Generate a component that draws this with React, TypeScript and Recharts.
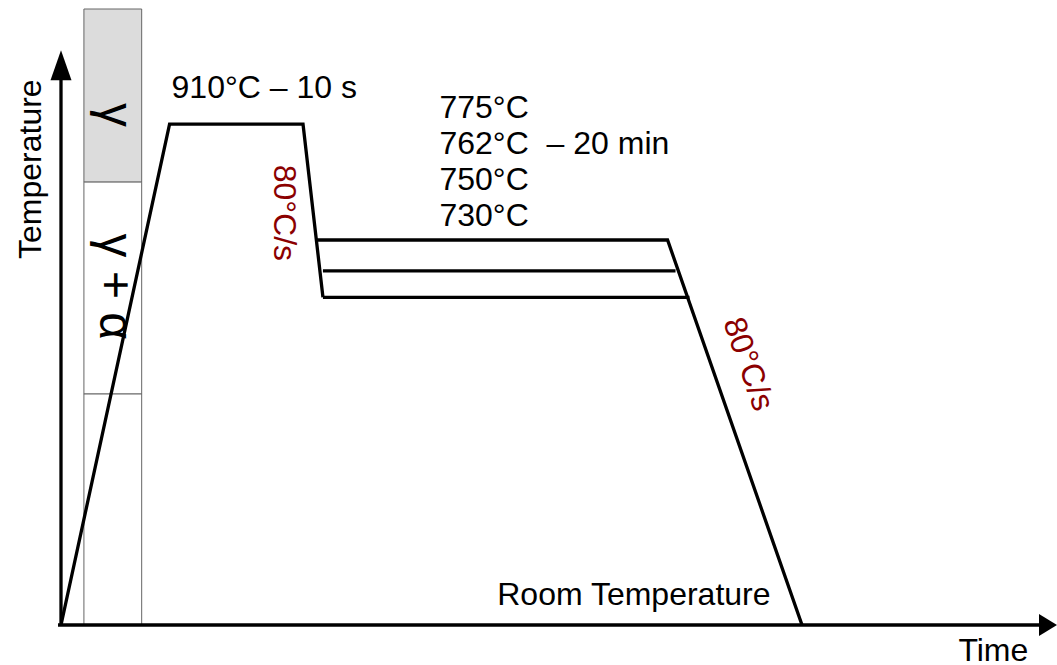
import React from "react";
import { LineChart, Line, XAxis, YAxis, ReferenceArea, ReferenceLine, ReferenceDot } from "recharts";

// schematic units: time 0-100, temperature 0-100 (room temperature = 0)
const rampTime = [0, 10.9, 24.3, 26.3];
const rampTemp = [0, 81.3, 81.3, 53.2];

const hold775Time = [25.6, 60.9, 74.4];
const hold775Temp = [62.5, 62.5, 0];
const hold762Time = [26.3, 61.7];
const hold762Temp = [57.5, 57.5];
const hold730Time = [26.3, 63.1];
const hold730Temp = [53.2, 53.2];

const phaseLabels = ["γ", "γ + α", ""];
const phaseTop = [100, 71.9, 37.5];
const phaseBottom = [71.9, 37.5, 0];
const phaseFill = ["#dcdcdc", "#ffffff", "#ffffff"];
const phaseLabelY = [82.8, 54.9, 0];

const soakLabels = ["775°C", "762°C  – 20 min", "750°C", "730°C"];
const soakLabelY = [82.3, 76.4, 70.6, 64.8];

const toRows = (t: number[], v: number[]) => t.map((time, i) => ({ time, temp: v[i] }));

const FONT = "'Liberation Sans', Arial, sans-serif";
const RED = "#8b0000";

const textShape =
  (label: string, opts: { anchor?: string; rotate?: number; fill?: string; middle?: boolean; size?: number } = {}) =>
  (p: any) => (
    <text
      x={p.cx}
      y={p.cy}
      fontFamily={FONT}
      fontSize={opts.size ?? 32}
      fill={opts.fill ?? "#000"}
      textAnchor={opts.anchor ?? "start"}
      dominantBaseline={opts.middle ? "central" : "auto"}
      transform={opts.rotate ? `rotate(${opts.rotate} ${p.cx} ${p.cy})` : undefined}
      style={{ whiteSpace: "pre" }}
    >
      {label}
    </text>
  );

const arrowUp = (p: any) => (
  <polygon points={`${p.cx},${p.cy} ${p.cx - 10.5},${p.cy + 30} ${p.cx + 10.5},${p.cy + 30}`} fill="#000" />
);
const arrowRight = (p: any) => (
  <polygon points={`${p.cx},${p.cy} ${p.cx - 18},${p.cy - 11} ${p.cx - 18},${p.cy + 11}`} fill="#000" />
);

export default function App() {
  const lineProps = {
    dataKey: "temp",
    stroke: "#000",
    strokeWidth: 3.3,
    dot: false,
    type: "linear" as const,
    isAnimationActive: false,
    strokeLinejoin: "miter" as const,
  };
  return (
    <div style={{ position: "absolute", left: 0, top: 0, background: "#fff" }}>
      <LineChart width={1057} height={665} margin={{ top: 9, right: 0, bottom: 40, left: 61 }}>
        <XAxis dataKey="time" type="number" domain={[0, 100]} hide allowDataOverflow />
        <YAxis type="number" domain={[0, 100]} hide allowDataOverflow />

        {phaseTop.map((top, i) => (
          <ReferenceArea
            key={"ph" + i}
            x1={2.3}
            x2={8.1}
            y1={phaseBottom[i]}
            y2={top}
            fill={phaseFill[i]}
            fillOpacity={1}
            stroke="#666"
            strokeWidth={1}
            ifOverflow="visible"
          />
        ))}

        <ReferenceLine segment={[{ x: 0, y: 0 }, { x: 0, y: 88.5 }]} stroke="#000" strokeWidth={3.3} ifOverflow="visible" />
        <ReferenceLine segment={[{ x: -0.3, y: 0 }, { x: 98.5, y: 0 }]} stroke="#000" strokeWidth={3.3} ifOverflow="visible" />
        <ReferenceDot x={0} y={93.3} r={1} ifOverflow="visible" shape={arrowUp} />
        <ReferenceDot x={100} y={0} r={1} ifOverflow="visible" shape={arrowRight} />

        <Line data={toRows(rampTime, rampTemp)} {...lineProps} />
        <Line data={toRows(hold775Time, hold775Temp)} {...lineProps} />
        <Line data={toRows(hold762Time, hold762Temp)} {...lineProps} />
        <Line data={toRows(hold730Time, hold730Temp)} {...lineProps} />

        {phaseLabels.map((lbl, i) =>
          lbl ? (
            <ReferenceDot key={"pl" + i} x={3.9} y={phaseLabelY[i]} r={1} ifOverflow="visible"
              shape={textShape(lbl, { anchor: "middle", rotate: 90, size: 48 })} />
          ) : null
        )}

        <ReferenceDot x={-3.1} y={74.0} r={1} ifOverflow="visible"
          shape={textShape("Temperature", { anchor: "middle", rotate: -90, middle: true })} />
        <ReferenceDot x={90.1} y={-5.8} r={1} ifOverflow="visible" shape={textShape("Time")} />
        <ReferenceDot x={43.8} y={3.2} r={1} ifOverflow="visible" shape={textShape("Room Temperature")} />
        <ReferenceDot x={11.1} y={85.6} r={1} ifOverflow="visible" shape={textShape("910°C – 10 s")} />

        {soakLabels.map((lbl, i) => (
          <ReferenceDot key={"sl" + i} x={38.0} y={soakLabelY[i]} r={1} ifOverflow="visible" shape={textShape(lbl)} />
        ))}

        <ReferenceDot x={22.5} y={66.9} r={1} ifOverflow="visible"
          shape={textShape("80°C/s", { anchor: "middle", rotate: 90, middle: true, fill: RED })} />
        <ReferenceDot x={69.1} y={42.4} r={1} ifOverflow="visible"
          shape={textShape("80°C/s", { anchor: "middle", rotate: 70.8, middle: true, fill: RED })} />
      </LineChart>
    </div>
  );
}
